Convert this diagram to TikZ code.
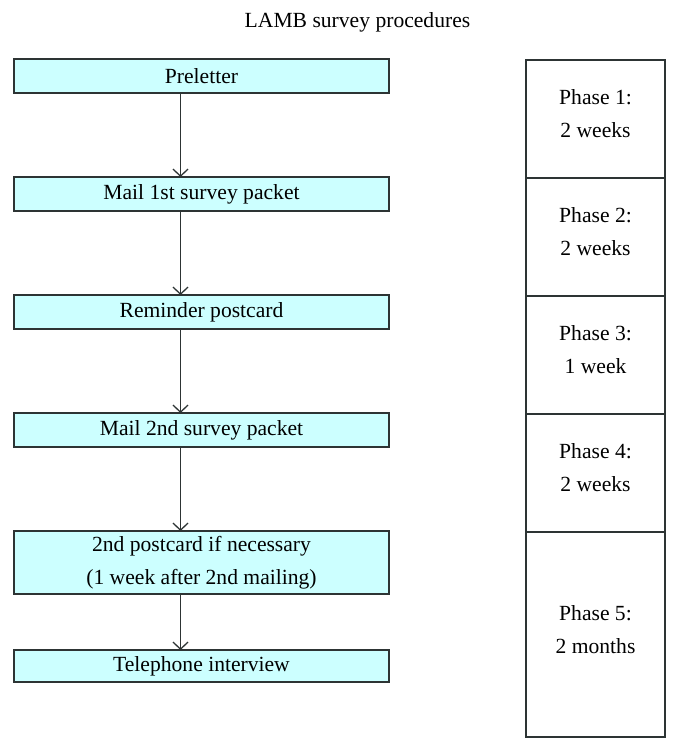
\documentclass[tikz,border=0pt]{standalone}
\usepackage{fontspec}
\setmainfont{Liberation Serif}
\usetikzlibrary{arrows.meta}
\definecolor{boxfill}{RGB}{204,255,255}
\definecolor{edge}{RGB}{45,52,52}
\begin{document}
\begin{tikzpicture}[x=1pt,y=-1pt,
  every node/.style={font=\fontsize{21.6}{33}\selectfont, inner sep=0pt, outer sep=0pt},
  stepbox/.style={draw=edge, line width=1.8pt, fill=boxfill, minimum width=375pt, minimum height=34pt, align=center},
  cell/.style={draw=edge, line width=1.6pt, minimum width=139pt},
  ptext/.style={align=center},
  arr/.style={draw=edge, line width=1.3pt, -{Straight Barb[length=7pt,width=15pt,line width=1.3pt]}}
]
\useasboundingbox (0,0) rectangle (680,751);
\node (title) at (357.5,22) {LAMB survey procedures};
\node[stepbox] (b1) at (201.5,76) {Preletter};
\node[stepbox] (b2) at (201.5,194) {Mail 1st survey packet};
\node[stepbox] (b3) at (201.5,312) {Reminder postcard};
\node[stepbox] (b4) at (201.5,430) {Mail 2nd survey packet};
\node[stepbox, minimum height=63pt] (b5) at (201.5,562.5) {\raisebox{-3pt}{2nd postcard if necessary}\\\raisebox{-3pt}{(1 week after 2nd mailing)}};
\node[stepbox, minimum height=32pt] (b6) at (201.5,666) {Telephone interview};
\draw[arr] ([xshift=-21pt]b1.south) -- ([xshift=-21pt]b2.north);
\draw[arr] ([xshift=-21pt]b2.south) -- ([xshift=-21pt]b3.north);
\draw[arr] ([xshift=-21pt]b3.south) -- ([xshift=-21pt]b4.north);
\draw[arr] ([xshift=-21pt]b4.south) -- ([xshift=-21pt]b5.north);
\draw[arr] ([xshift=-21pt]b5.south) -- ([xshift=-21pt]b6.north);
\node[cell, minimum height=118pt] (c1) at (595.5,119) {};
\node[cell, minimum height=118pt] (c2) at (595.5,237) {};
\node[cell, minimum height=118pt] (c3) at (595.5,355) {};
\node[cell, minimum height=118pt] (c4) at (595.5,473) {};
\node[cell, minimum height=205pt] (c5) at (595.5,634.5) {};
\node[ptext] (t1) at ([yshift=5pt]c1.center) {Phase 1:\\2 weeks};
\node[ptext] (t2) at ([yshift=5pt]c2.center) {Phase 2:\\2 weeks};
\node[ptext] (t3) at ([yshift=5pt]c3.center) {Phase 3:\\1 week};
\node[ptext] (t4) at ([yshift=5pt]c4.center) {Phase 4:\\2 weeks};
\node[ptext] (t5) at ([yshift=5pt]c5.center) {Phase 5:\\2 months};
\end{tikzpicture}
\end{document}
